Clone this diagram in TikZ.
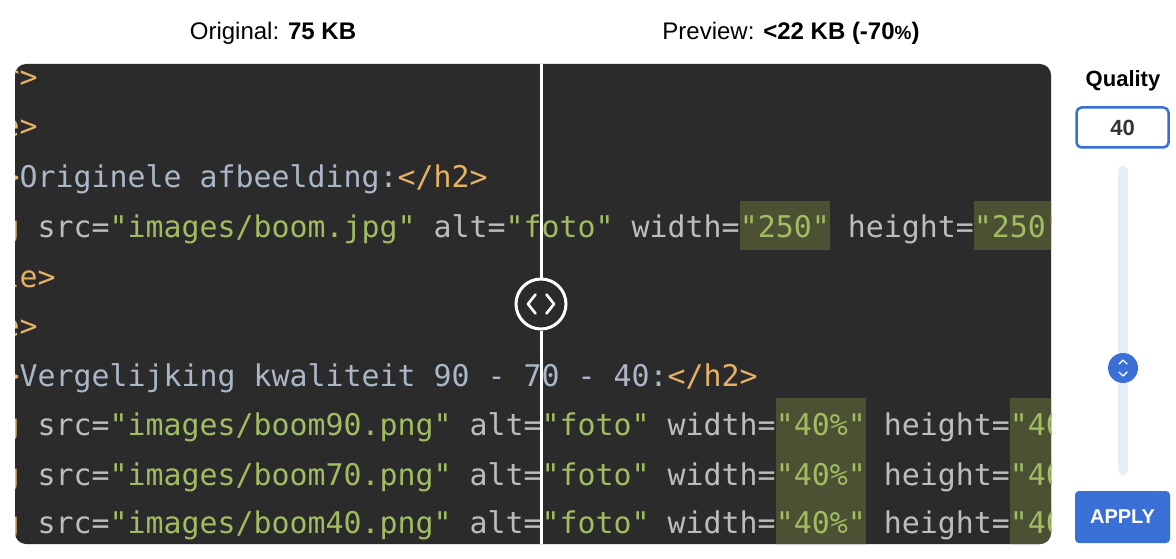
\documentclass[tikz,border=0pt]{standalone}
\usepackage{fontspec}
\setmainfont{Liberation Sans}
\newfontfamily\codefont{DejaVu Sans Mono}
\definecolor{panel}{HTML}{2B2B2B}
\definecolor{ctag}{HTML}{E6B163}
\definecolor{ctext}{HTML}{A9B7C6}
\definecolor{cattr}{HTML}{BDBDBD}
\definecolor{cstr}{HTML}{A0BD62}
\definecolor{chl}{HTML}{4D5134}
\definecolor{uiblue}{HTML}{3A6FD6}
\definecolor{track}{HTML}{E8EEF9}
\definecolor{dark}{HTML}{333333}
\newcommand\cTag[1]{\textcolor{ctag}{#1}}
\newcommand\cTxt[1]{\textcolor{ctext}{#1}}
\newcommand\cAtt[1]{\textcolor{cattr}{#1}}
\newcommand\cStr[1]{\textcolor{cstr}{#1}}
\begin{document}
\begin{tikzpicture}[x=1pt,y=-1pt,
  code/.style={anchor=base west, inner sep=0pt, font=\codefont\fontsize{29.9}{30}\selectfont},
  hdr/.style={anchor=base, inner sep=0pt, font=\fontsize{24}{26}\selectfont},
  hl/.style={fill=chl},
  chev/.style={white, line width=2.6pt, line cap=round, line join=round},
  smallchev/.style={white, line width=1.4pt, line cap=round, line join=round}]
\useasboundingbox[fill=white] (0,0) rectangle (1176,559);

% headers
\node[hdr] (orig) at (273,40) {Original: \textbf{75 KB}};
\node[hdr] (prev) at (791,40) {Preview: \textbf{<22 KB (-70{\fontsize{19}{20}\selectfont\%})}};

% code panel
\fill[panel, rounded corners=11pt] (15,64) rectangle (1051,544);
\begin{scope}
\clip[rounded corners=11pt] (15,64) rectangle (1051,544);
\fill[hl] (739.5,201) rectangle (829.5,250);
\fill[hl] (973.5,201) rectangle (1060,250);
\fill[hl] (775.5,398) rectangle (865.5,550);
\fill[hl] (1009.5,398) rectangle (1060,550);
\node[code] (r1) at (1.5,88) {\cTag{r>}};
\node[code] (r2) at (1.5,137) {\cTag{e>}};
\node[code] (r3) at (1.5,187) {\cTag{>}\cTxt{Originele afbeelding:}\cTag{</h2>}};
\node[code] (r4) at (1.5,237) {\cTag{g} \cAtt{src=}\cStr{"images/boom.jpg"} \cAtt{alt=}\cStr{"foto"} \cAtt{width=}\cStr{"250"} \cAtt{height=}\cStr{"250"}};
\node[code] (r5) at (1.5,287) {\cTag{le>}};
\node[code] (r6) at (1.5,336) {\cTag{e>}};
\node[code] (r7) at (1.5,386) {\cTag{>}\cTxt{Vergelijking kwaliteit 90 - 70 - 40:}\cTag{</h2>}};
\node[code] (r8) at (1.5,435) {\cTag{g} \cAtt{src=}\cStr{"images/boom90.png"} \cAtt{alt=}\cStr{"foto"} \cAtt{width=}\cStr{"40\%"} \cAtt{height=}\cStr{"40\%"}};
\node[code] (r9) at (1.5,485) {\cTag{g} \cAtt{src=}\cStr{"images/boom70.png"} \cAtt{alt=}\cStr{"foto"} \cAtt{width=}\cStr{"40\%"} \cAtt{height=}\cStr{"40\%"}};
\node[code] (r10) at (1.5,533) {\cTag{g} \cAtt{src=}\cStr{"images/boom40.png"} \cAtt{alt=}\cStr{"foto"} \cAtt{width=}\cStr{"40\%"} \cAtt{height=}\cStr{"40\%"}};
\end{scope}

% divider and handle
\coordinate (dtop) at (541,64);
\coordinate (dbot) at (541,544);
\node[circle, draw=white, line width=3pt, fill=panel, minimum size=50pt, inner sep=0pt] (handle) at (541,304) {};
\draw[white, line width=3pt] (dtop) -- (handle.north);
\draw[white, line width=3pt] (handle.south) -- (dbot);
\draw[chev] (535.5,294.5) -- (528,304) -- (535.5,313.5);
\draw[chev] (546.5,294.5) -- (554,304) -- (546.5,313.5);

% right controls
\node[anchor=base, inner sep=0pt, font=\bfseries\fontsize{22}{24}\selectfont] (qlabel) at (1123,87) {Quality};
\node[draw=uiblue, line width=2.5pt, rounded corners=5pt, minimum width=92pt, minimum height=40pt, inner sep=0pt,
      font=\bfseries\fontsize{22}{24}\selectfont, text=dark] (qbox) at (1122.5,127.5) {40};
\fill[track, rounded corners=5pt] (1118,166) rectangle (1128,475);
\node[circle, fill=uiblue, minimum size=30pt, inner sep=0pt] (thumb) at (1123,368) {};
\draw[smallchev] (1119,364) -- (1123,360) -- (1127,364);
\draw[smallchev] (1119,372) -- (1123,376) -- (1127,372);
\node[fill=uiblue, rounded corners=4pt, minimum width=95pt, minimum height=52pt, inner sep=0pt,
      text=white, font=\bfseries\fontsize{20}{22}\selectfont] (apply) at (1122.5,517) {APPLY};
\end{tikzpicture}
\end{document}
